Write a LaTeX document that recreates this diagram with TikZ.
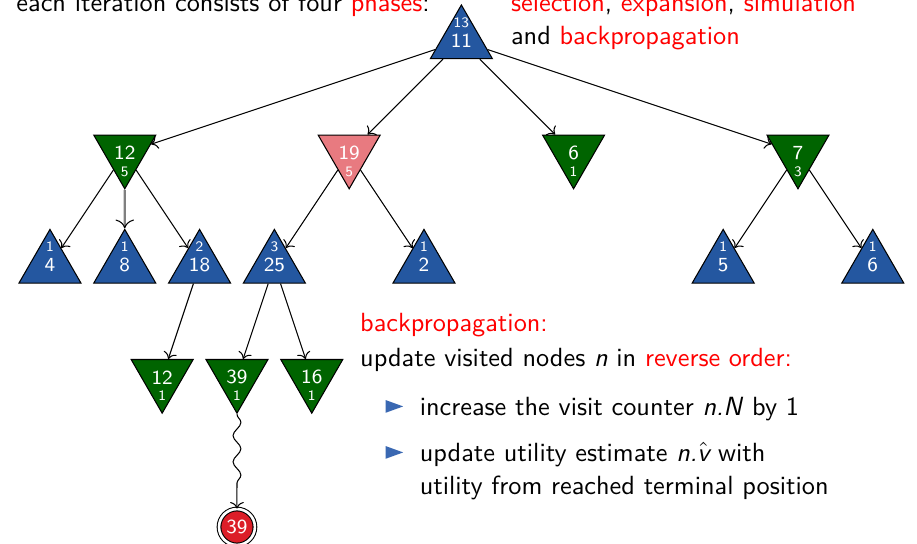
\documentclass[tikz,border=0pt]{standalone}
\usepackage{tikz}
\usetikzlibrary{positioning}
\usetikzlibrary{shapes}
\usetikzlibrary{arrows.meta}
\usetikzlibrary{decorations.pathmorphing}

\definecolor{maxblue}{RGB}{36,87,160}
\definecolor{mingreen}{RGB}{0,100,0}
\definecolor{selpink}{RGB}{232,122,128}
\definecolor{termred}{RGB}{220,30,40}
\definecolor{bulblue}{RGB}{58,104,178}

\newcommand{\bodyfont}{\sffamily\fontsize{10}{12.6}\selectfont}
\newcommand{\valfont}{\sffamily\fontsize{7.6}{8}\selectfont}
\newcommand{\cntfont}{\sffamily\fontsize{5.5}{6}\selectfont}

\tikzset{
  >={To},
  maxnode/.style={regular polygon, regular polygon sides=3, minimum size=0.957cm,
    inner sep=0pt, draw=black, fill=maxblue, text=white, font=\valfont},
  minnode/.style={maxnode, shape border rotate=180, fill=mingreen},
  cnt/.style={font=\cntfont, text=white, inner sep=0pt},
  upcnt/.style={label={[cnt, yshift=0.243cm]center:#1}},
  downcnt/.style={label={[cnt, yshift=-0.25cm]center:#1}},
  term/.style={circle, draw=black, double=white, double distance=1pt, fill=termred,
    text=white, font=\valfont, minimum size=0.48cm, inner sep=0pt},
  txt/.style={font=\bodyfont, anchor=base west, inner sep=0pt},
}

\begin{document}
\begin{tikzpicture}
\useasboundingbox (-0.668,0.545) rectangle (11.591,-6.727);

%tree
\node[maxnode, upcnt=13] (root) at (5.5,0) {11};
%first level
\node[minnode, downcnt=5] (a) at (1,-1.5) {12};
\node[minnode, downcnt=5, fill=selpink] (b) at (4,-1.5) {19};
\node[minnode, downcnt=1] (c) at (7,-1.5) {6};
\node[minnode, downcnt=3] (d) at (10,-1.5) {7};
%second level
\node[maxnode, upcnt=1] (a1) at (0,-3) {4};
\node[maxnode, upcnt=1] (a2) at (1,-3) {8};
\node[maxnode, upcnt=2] (a3) at (2,-3) {18};
\node[maxnode, upcnt=3] (b1) at (3,-3) {25};
\node[maxnode, upcnt=1] (b2) at (5,-3) {2};
\node[maxnode, upcnt=1] (d1) at (9,-3) {5};
\node[maxnode, upcnt=1] (d2) at (11,-3) {6};
%third level
\node[minnode, downcnt=1] (a31) at (1.5,-4.5) {12};
\node[minnode, downcnt=1] (b11) at (2.5,-4.5) {39};
\node[minnode, downcnt=1] (b12) at (3.5,-4.5) {16};
%terminal
\node[term] (t) at (2.5,-6.5) {39};

%edges
\draw[->] (root) -- (a);
\draw[->] (root) -- (b);
\draw[->] (root) -- (c);
\draw[->] (root) -- (d);
\draw[->] (a) -- (a1);
\draw[gray, line width=0.8pt, -{To[color=black, line width=0.4pt]}] (a) -- (a2);
\draw[->] (a) -- (a3);
\draw[->] (b) -- (b1);
\draw[->] (b) -- (b2);
\draw[->] (d) -- (d1);
\draw[->] (d) -- (d2);
\draw[->] (a3) -- (a31);
\draw[->] (b1) -- (b11);
\draw[->] (b1) -- (b12);
\draw[->, decorate, decoration={snake, amplitude=1.5pt, segment length=10pt, post length=6pt}] (b11) -- (t);

%text
\node[txt] (phs) at (-0.455,0.385) {each iteration consists of four \textcolor{red}{phases}:};
\node[txt] (sel) at (6.157,0.385) {\textcolor{red}{selection}, \textcolor{red}{expansion}, \textcolor{red}{simulation}};
\node[txt] (sel2) at (6.157,-0.056) {and \textcolor{red}{backpropagation}};
\node[txt, text=red] (bp) at (4.14,-3.889) {backpropagation:};
\node[txt] (upd) at (4.14,-4.361) {update visited nodes \textit{n} in \textcolor{red}{reverse order:}};
\node[txt] (it1) at (4.937,-5.003) {increase the visit counter \textit{n.N} by 1};
\node[txt] (it2) at (4.937,-5.618) {update utility estimate \textit{n.}$\hat{\textit{v}}$ with};
\node[txt] (it3) at (4.937,-6.072) {utility from reached terminal position};
%bullets
\fill[bulblue] ([xshift=-0.45cm, yshift=0.03cm]it1.base west) -- ++(0,0.17) -- ++(0.235,-0.085) -- cycle;
\fill[bulblue] ([xshift=-0.45cm, yshift=0.03cm]it2.base west) -- ++(0,0.17) -- ++(0.235,-0.085) -- cycle;

\end{tikzpicture}
\end{document}
